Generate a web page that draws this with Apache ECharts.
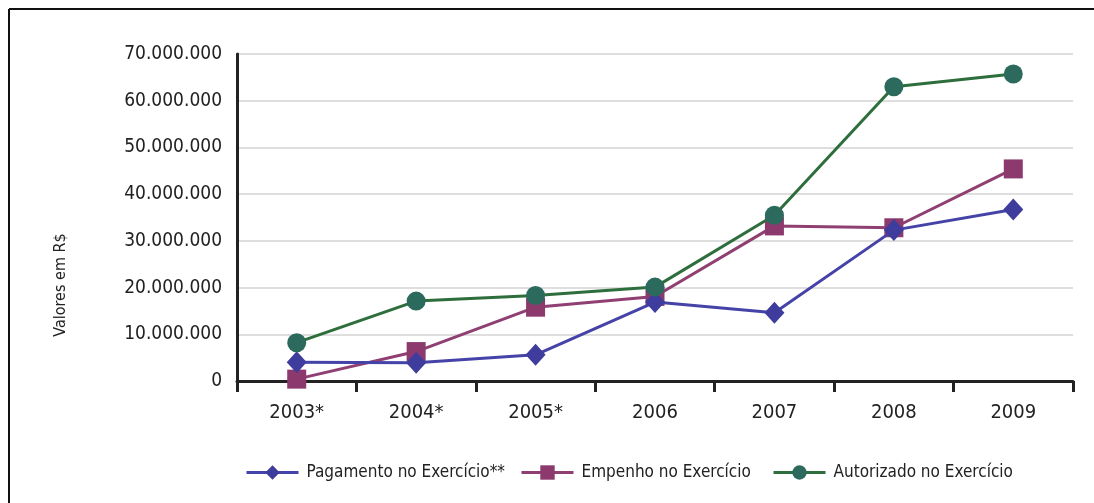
<!DOCTYPE html>
<html>
<head>
<meta charset="utf-8">
<script src="https://cdn.jsdelivr.net/npm/echarts@6/dist/echarts.min.js"></script>
<style>
  html, body { margin: 0; padding: 0; background: #fff; }
  #chart { width: 1094px; height: 503px; }
</style>
</head>
<body>
<div id="chart"></div>
<script>
// Execução orçamentária por exercício (valores em R$)
const years = ['2003*', '2004*', '2005*', '2006', '2007', '2008', '2009'];
const pagamento = [4000000, 3900000, 5600000, 16900000, 14600000, 32300000, 36700000];
const empenho = [400000, 6300000, 15800000, 18100000, 33200000, 32800000, 45400000];
const autorizado = [8200000, 17100000, 18300000, 20100000, 35500000, 63000000, 65700000];
const seriesNames = ['Pagamento no Exercício**', 'Empenho no Exercício', 'Autorizado no Exercício'];
const axisTitle = 'Valores em R$';

const FONT = "'Liberation Sans Narrow', 'DejaVu Sans Condensed', 'Roboto Condensed', sans-serif";
const TEXT = '#222';

function fmt(v) {
  return String(Math.round(v)).replace(/\B(?=(\d{3})+(?!\d))/g, '.');
}

// one legend block per series so each entry keeps its own slot
const legendSlots = [240, 515, 767];
function legendFor(i) {
  return {
    left: legendSlots[i],
    top: 459,
    itemWidth: 52,
    itemHeight: 18,
    lineStyle: { width: 3 },
    textStyle: { fontFamily: FONT, fontSize: 17, color: TEXT, padding: [0, 0, 0, 3] },
    data: [seriesNames[i]]
  };
}

const chart = echarts.init(document.getElementById('chart'), null, { renderer: 'canvas' });

chart.setOption({
  animation: false,
  backgroundColor: '#fff',
  textStyle: { fontFamily: FONT, color: TEXT },
  grid: { left: 237, right: 21, top: 54, bottom: 122, containLabel: false },
  graphic: [
    { type: 'line', shape: { x1: 9, y1: 9, x2: 1094, y2: 9 }, style: { stroke: '#111', lineWidth: 2 } },
    { type: 'line', shape: { x1: 9, y1: 9, x2: 9, y2: 503 }, style: { stroke: '#111', lineWidth: 2 } },
    {
      type: 'text',
      x: 61,
      y: 285,
      rotation: Math.PI / 2,
      style: {
        text: axisTitle,
        fontFamily: FONT,
        fontSize: 16,
        fill: TEXT,
        align: 'center',
        verticalAlign: 'middle'
      }
    }
  ],
  legend: [legendFor(0), legendFor(1), legendFor(2)],
  xAxis: {
    type: 'category',
    data: years,
    boundaryGap: true,
    axisLine: { show: true, lineStyle: { color: '#222', width: 3 } },
    axisTick: { show: true, length: 11, lineStyle: { color: '#222', width: 3 } },
    axisLabel: { fontFamily: FONT, fontSize: 20, color: TEXT, margin: 22 },
    splitLine: { show: false }
  },
  yAxis: {
    type: 'value',
    min: 0,
    max: 70000000,
    interval: 10000000,
    axisLine: { show: true, lineStyle: { color: '#222', width: 3 } },
    axisTick: { show: false },
    axisLabel: { fontFamily: FONT, fontSize: 19, color: TEXT, margin: 15, formatter: fmt },
    splitLine: { show: true, lineStyle: { color: '#dedede', width: 2 } }
  },
  series: [
    {
      name: seriesNames[0],
      type: 'line',
      data: pagamento,
      symbol: 'diamond',
      symbolSize: [20, 22],
      z: 3,
      itemStyle: { color: '#3e3c9c' },
      lineStyle: { color: '#4543a8', width: 3 }
    },
    {
      name: seriesNames[1],
      type: 'line',
      data: empenho,
      symbol: 'rect',
      symbolSize: 19,
      z: 2,
      itemStyle: { color: '#8c3a6e' },
      lineStyle: { color: '#8f3f72', width: 3 }
    },
    {
      name: seriesNames[2],
      type: 'line',
      data: autorizado,
      symbol: 'circle',
      symbolSize: 19,
      z: 4,
      itemStyle: { color: '#2b6a5c' },
      lineStyle: { color: '#2d6e3c', width: 3 }
    }
  ]
});
</script>
</body>
</html>
